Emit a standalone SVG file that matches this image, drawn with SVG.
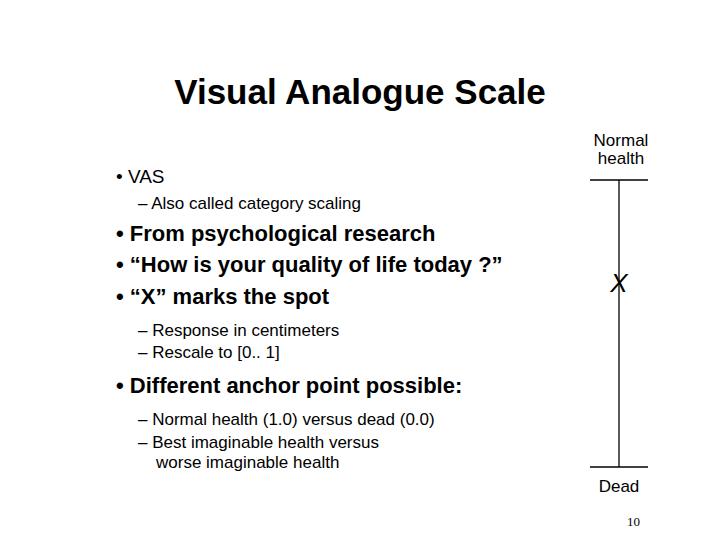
<svg xmlns="http://www.w3.org/2000/svg" width="720" height="540" viewBox="0 0 720 540">
<style>
text{font-family:"Liberation Sans",Arial,sans-serif;fill:#000}
.b{font-size:22px;font-weight:bold}
.s{font-size:17px}
.l{stroke:#000;stroke-width:1.3}
</style>
<rect width="720" height="540" fill="#fff"/>
<text x="360" y="104" font-size="35" font-weight="bold" text-anchor="middle">Visual Analogue Scale</text>
<text x="116" y="183" font-size="19">• VAS</text>
<text x="138" y="209" class="s">– Also called category scaling</text>
<text x="116" y="241" class="b">• From psychological research</text>
<text x="116" y="272" class="b">• “How is your quality of life today ?”</text>
<text x="116" y="304" class="b">• “X” marks the spot</text>
<text x="138" y="336" class="s">– Response in centimeters</text>
<text x="138" y="358" class="s">– Rescale to [0.. 1]</text>
<text x="116" y="393" class="b">• Different anchor point possible:</text>
<text x="138" y="425" class="s">– Normal health (1.0) versus dead (0.0)</text>
<text x="138" y="448" class="s">– Best imaginable health versus</text>
<text x="156" y="468" class="s">worse imaginable health</text>
<g id="scale">
<text x="621" y="146" class="s" text-anchor="middle">Normal</text>
<text x="621" y="164" class="s" text-anchor="middle">health</text>
<line class="l" x1="590" y1="180" x2="648" y2="180"/>
<line class="l" x1="619" y1="180" x2="619" y2="467"/>
<line class="l" x1="590" y1="467" x2="648" y2="467"/>
<text x="619" y="292" font-size="26" font-style="italic" text-anchor="middle">X</text>
<text x="619" y="492" class="s" text-anchor="middle">Dead</text>
</g>
<text x="627" y="526" font-size="13" style="font-family:'Liberation Serif',serif">10</text>
</svg>
